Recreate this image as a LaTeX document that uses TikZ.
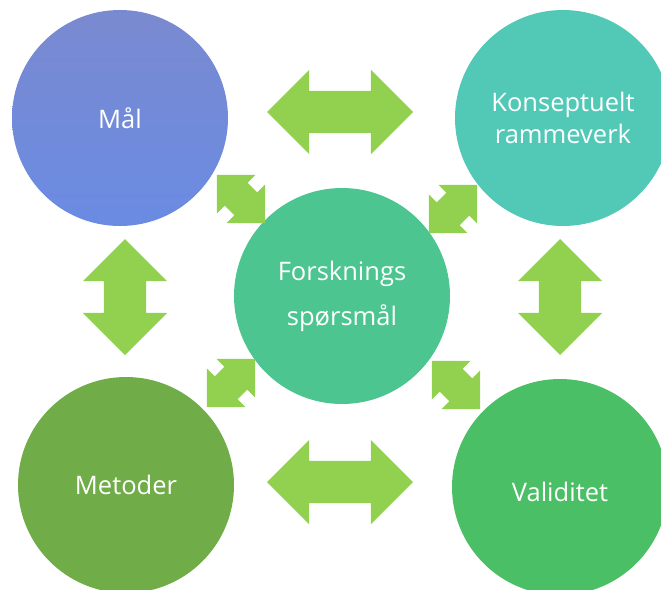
\documentclass[tikz,border=0pt]{standalone}
\usepackage{fontspec}
\setmainfont{Open Sans}
\usetikzlibrary{shapes.arrows}

\definecolor{maltopp}{HTML}{7A8AD0}
\definecolor{malbunn}{HTML}{6A8BE3}
\definecolor{konsfarge}{HTML}{52C9B7}
\definecolor{forsfarge}{HTML}{4DC590}
\definecolor{metfarge}{HTML}{70AC48}
\definecolor{valfarge}{HTML}{4ABF66}
\definecolor{pilfarge}{HTML}{92D050}

\begin{document}
\begin{tikzpicture}[x=1pt, y=-1pt,
    boble/.style={circle, minimum size=216pt, inner sep=0pt, text=white,
        font=\fontsize{25.5}{32}\selectfont, align=center},
    storpil/.style={double arrow, fill=pilfarge, inner xsep=0pt, inner ysep=21pt,
        minimum height=146pt, minimum width=84pt,
        double arrow head extend=21pt, double arrow tip angle=90},
    smapil/.style={double arrow, fill=pilfarge, inner xsep=0pt, inner ysep=16pt,
        minimum height=68pt, minimum width=54pt,
        double arrow head extend=11pt, double arrow tip angle=90}]
    \useasboundingbox (0,0) rectangle (661,589);
    \clip (0,0) rectangle (661,589);

    % Sirkler
    \node[boble, top color=maltopp, bottom color=malbunn] (mal) at (120,118) {Mål};
    \node[boble, fill=konsfarge] (konsept) at (563,118) {Konseptuelt\\rammeverk};
    \node[boble, fill=forsfarge, font=\fontsize{25.5}{45}\selectfont] (fors) at (342,296) {Forsknings\\spørsmål};
    \node[boble, fill=metfarge] (metoder) at (126,485) {Metoder};
    \node[boble, fill=valfarge, text height=28pt, text depth=0pt] (validitet) at (560,487) {Validitet};

    % Store piler
    \node[storpil] (pilMK) at (340,112) {};
    \node[storpil] (pilMV) at (340,482) {};
    \node[storpil, minimum height=116pt, rotate=90] (pilMM) at (125,297) {};
    \node[storpil, minimum height=116pt, rotate=90] (pilKV) at (560,297) {};

    % Sma piler mot midten
    \node[smapil, rotate=-45] (pilMF) at (241,199) {};
    \node[smapil, rotate=45] (pilKF) at (453,209) {};
    \node[smapil, rotate=45] (pilEF) at (231,383) {};
    \node[smapil, rotate=-45] (pilVF) at (456,385) {};
\end{tikzpicture}
\end{document}
